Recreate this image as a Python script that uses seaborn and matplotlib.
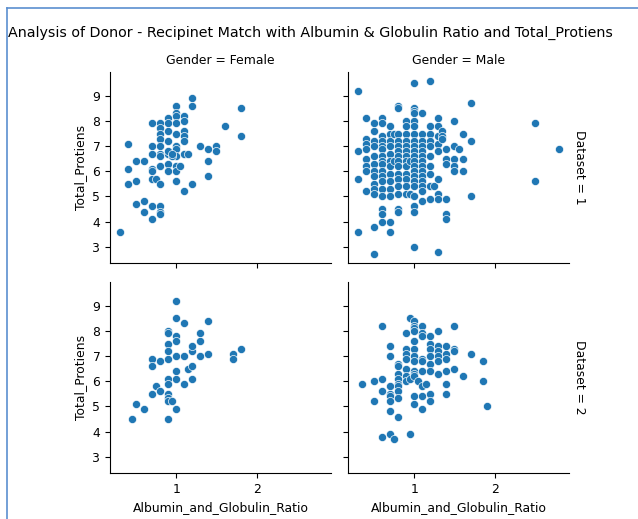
import matplotlib
matplotlib.use("Agg")
import matplotlib.pyplot as plt
from matplotlib.lines import Line2D
import pandas as pd
import seaborn as sns

# values, one pair of lists per facet
female_1_ratio = [0.3, 0.4, 0.4, 0.4, 0.5, 0.5, 0.6, 0.5, 0.6, 0.6, 0.7, 0.7, 0.8, 0.8, 0.8,
                  0.7, 0.7, 0.7, 0.7, 0.7, 0.7, 0.75,
                  0.8, 0.8, 0.8, 0.8, 0.8, 0.8, 0.8, 0.8, 0.8,
                  0.9, 0.9, 0.9, 0.9, 0.9, 0.9, 0.9, 0.9,
                  1.0, 1.0, 1.0, 1.0, 1.0, 1.0, 1.0, 1.0, 1.0, 1.0, 1.0,
                  0.95, 0.95, 1.05,
                  1.1, 1.1, 1.1, 1.1, 1.1, 1.1, 1.15, 1.1,
                  1.2, 1.2, 1.2, 1.3, 1.4, 1.4, 1.4, 1.5, 1.5, 1.6, 1.8, 1.8]
female_1_prot = [3.6, 7.1, 6.1, 5.5, 5.6, 6.4, 6.4, 4.7, 4.8, 4.4, 4.6, 4.1, 4.6, 4.4, 4.3,
                 7.9, 7.0, 6.7, 6.1, 6.0, 5.7, 5.7,
                 7.9, 7.7, 7.5, 7.3, 7.0, 6.7, 6.6, 6.2, 5.5,
                 8.1, 7.9, 7.6, 7.2, 6.7, 6.3, 6.0, 6.8,
                 8.6, 8.3, 8.2, 7.9, 7.5, 7.0, 6.9, 6.6, 6.2, 6.0, 5.6,
                 6.6, 6.7, 6.2,
                 8.2, 8.0, 7.6, 7.4, 7.2, 6.7, 6.7, 5.2,
                 8.9, 8.6, 5.5, 7.0, 6.9, 6.4, 5.8, 7.0, 6.8, 7.8, 8.5, 7.4]

male_1_ratio = [0.3, 0.3, 0.3, 0.3,
                0.4, 0.4, 0.4, 0.4, 0.4, 0.4, 0.4, 0.4,
                0.5, 0.5, 0.5, 0.5, 0.5, 0.5, 0.5, 0.5, 0.5, 0.5, 0.5, 0.5, 0.5,
                0.6, 0.6, 0.6, 0.6, 0.6, 0.6, 0.6, 0.6, 0.6, 0.6, 0.6, 0.6, 0.6, 0.6, 0.6, 0.6, 0.6,
                0.7, 0.7, 0.7, 0.7, 0.7, 0.7, 0.7, 0.7, 0.7, 0.7, 0.7, 0.7, 0.7,
                0.75, 0.75,
                0.8, 0.8, 0.8, 0.8, 0.8, 0.8, 0.8, 0.8, 0.8, 0.8, 0.8, 0.8, 0.8, 0.8, 0.8,
                0.9, 0.9, 0.9, 0.9, 0.9, 0.9, 0.9, 0.9, 0.9, 0.9, 0.9, 0.9, 0.9,
                0.95, 0.95,
                1.0, 1.0, 1.0, 1.0, 1.0, 1.0, 1.0, 1.0, 1.0, 1.0, 1.0, 1.0, 1.0, 1.0, 1.0,
                1.0, 1.0, 1.0, 1.0, 1.0, 1.0,
                1.1, 1.1, 1.1, 1.1, 1.1, 1.1, 1.1, 1.1, 1.1, 1.1, 1.1, 1.1, 1.1, 1.1,
                1.2, 1.2, 1.2, 1.2, 1.2, 1.2, 1.2, 1.2, 1.2, 1.2, 1.25,
                1.3, 1.3, 1.3, 1.3, 1.3, 1.3, 1.3, 1.3, 1.3,
                1.35, 1.35, 1.35,
                1.4, 1.4, 1.4, 1.4, 1.4, 1.4,
                1.5, 1.5, 1.5, 1.5, 1.5, 1.55,
                1.6, 1.6, 1.6, 1.7, 1.7, 1.7,
                2.5, 2.5, 2.8]
male_1_prot = [9.2, 6.8, 3.6, 5.7,
               8.1, 7.3, 7.1, 6.9, 6.5, 6.2, 6.0, 5.2,
               2.7, 3.8, 7.9, 7.6, 7.2, 7.0, 6.6, 6.3, 6.0, 5.8, 5.5, 5.3, 5.1,
               8.1, 7.9, 7.4, 7.2, 7.0, 6.9, 6.6, 6.4, 6.3, 6.0, 5.8, 5.6, 5.3, 5.0, 4.5, 4.3, 4.0,
               7.8, 7.5, 7.2, 7.0, 6.7, 6.4, 6.2, 5.9, 5.6, 5.3, 5.0, 4.0, 3.6,
               7.5, 6.4,
               8.6, 8.5, 7.5, 7.2, 7.0, 6.8, 6.6, 6.4, 6.2, 5.9, 5.7, 5.4, 5.1, 4.5, 4.4,
               8.0, 7.8, 7.5, 7.2, 7.0, 6.8, 6.6, 6.4, 6.2, 5.9, 5.7, 5.4, 5.1,
               5.1, 6.4,
               9.5, 8.5, 8.4, 8.3, 8.0, 7.8, 7.5, 7.2, 7.0, 6.8, 6.6, 6.4, 6.2, 6.0, 5.8,
               5.6, 5.4, 5.0, 4.6, 4.4, 3.0,
               8.3, 7.5, 7.2, 7.0, 6.8, 6.6, 6.4, 6.2, 6.0, 5.8, 5.6, 5.4, 5.2, 4.8,
               9.6, 7.8, 7.5, 7.2, 7.0, 6.6, 6.2, 5.9, 5.4, 4.9, 5.4,
               8.1, 7.8, 7.4, 7.1, 6.8, 5.7, 5.1, 4.9, 2.8,
               7.6, 7.4, 7.3,
               6.9, 6.5, 6.3, 4.9, 4.3, 4.1,
               8.0, 7.0, 6.5, 6.2, 6.0, 6.9,
               7.5, 6.5, 6.0, 7.2, 8.7, 5.0,
               7.9, 5.6, 6.9]

female_2_ratio = [0.45, 0.5, 0.6, 0.7, 0.7, 0.7, 0.75, 0.8, 0.8,
                  1.0, 1.0, 1.0, 1.0, 1.0, 1.0, 1.0,
                  0.9, 0.9, 0.9, 0.9, 0.9, 0.9, 0.9, 0.9, 0.9, 0.9, 0.95, 0.9,
                  1.0, 1.1, 1.1, 1.1, 1.15, 1.2, 1.2, 1.2, 1.2,
                  1.3, 1.3, 1.3, 1.4, 1.4, 1.7, 1.7, 1.8]
female_2_prot = [4.5, 5.1, 4.9, 6.9, 6.6, 5.5, 5.8, 6.8, 5.6,
                 9.2, 8.5, 7.8, 7.6, 7.0, 6.4, 4.9,
                 8.0, 7.9, 7.5, 7.2, 6.9, 6.1, 5.9, 5.5, 5.35, 5.2, 5.2, 4.5,
                 6.1, 8.3, 7.0, 5.9, 6.5, 6.6, 7.2, 7.4, 6.1,
                 7.9, 7.6, 7.0, 8.4, 7.1, 7.1, 6.9, 7.3]

male_2_ratio = [0.35, 0.5, 0.5, 0.6, 0.6, 0.6, 0.6,
                0.7, 0.7, 0.7, 0.7, 0.7, 0.7, 0.7, 0.7, 0.75,
                0.8, 0.8, 0.8, 0.8, 0.8, 0.8, 0.8, 0.8, 0.8,
                0.9, 0.9, 0.9, 0.9, 0.9, 0.9, 0.9,
                0.95, 0.95, 0.95,
                1.0, 1.0, 1.0, 1.0, 1.0, 1.0, 1.0, 1.0, 1.0, 1.0, 1.0, 1.0, 1.0, 1.05,
                1.1, 1.1, 1.1, 1.1, 1.1, 1.1, 1.1, 1.1, 1.1, 1.15,
                1.2, 1.2, 1.2, 1.2, 1.2, 1.2, 1.2, 1.2,
                1.3, 1.3, 1.3, 1.3, 1.3, 1.3,
                1.4, 1.4, 1.4, 1.4, 1.4, 1.4,
                1.5, 1.5, 1.5, 1.5, 1.6, 1.7, 1.85, 1.85, 1.9]
male_2_prot = [5.9, 6.0, 5.2, 3.8, 8.2, 6.1, 5.6,
               7.4, 7.0, 5.8, 5.5, 5.4, 5.2, 4.8, 3.9, 3.7,
               6.7, 6.6, 6.3, 6.1, 5.9, 5.8, 5.6, 5.35, 4.6,
               7.9, 7.3, 7.1, 6.9, 6.5, 6.2, 6.0,
               8.5, 3.9, 6.1,
               8.4, 8.2, 8.1, 8.0, 7.6, 7.3, 7.0, 6.8, 6.4, 6.3, 6.2, 5.4, 5.1, 6.0,
               8.2, 7.9, 7.8, 6.9, 6.8, 6.4, 5.8, 5.4, 4.9, 5.9,
               7.8, 7.5, 7.3, 7.0, 6.7, 6.4, 5.5, 5.2,
               8.0, 7.4, 7.2, 7.0, 6.8, 6.3,
               7.4, 7.1, 6.9, 6.4, 5.9, 5.5,
               8.2, 7.3, 7.2, 6.5, 6.2, 7.1, 6.8, 6.0, 5.0]

# build one long table for the facet grid
parts = []
for gender, dataset, ratio, prot in [
    ("Female", 1, female_1_ratio, female_1_prot),
    ("Male", 1, male_1_ratio, male_1_prot),
    ("Female", 2, female_2_ratio, female_2_prot),
    ("Male", 2, male_2_ratio, male_2_prot),
]:
    parts.append(pd.DataFrame({
        "Albumin_and_Globulin_Ratio": ratio,
        "Total_Protiens": prot,
        "Gender": gender,
        "Dataset": dataset,
    }))
df = pd.concat(parts, ignore_index=True)

plt.rcParams["font.size"] = 8.9

g = sns.FacetGrid(df, row="Dataset", col="Gender", col_order=["Female", "Male"],
                  row_order=[1, 2], margin_titles=True)
g.map(sns.scatterplot, "Albumin_and_Globulin_Ratio", "Total_Protiens", s=34)

fig = g.figure
fig.set_size_inches(6.38, 5.19)
fig.subplots_adjust(left=110 / 638, right=569 / 638, top=1 - 72 / 519,
                    bottom=1 - 473 / 519, wspace=0.077, hspace=0.1)

g.set(xticks=[1, 2], yticks=[3, 4, 5, 6, 7, 8, 9])
for ax in g.axes.flat:
    ax.tick_params(labelsize=8.9)

# title, left-aligned; kept just small enough to fit the full width
fig.text(8 / 638, 1 - 33 / 519,
         "Analysis of Donor - Recipinet Match with Albumin & Globulin Ratio and Total_Protiens",
         ha="left", va="center", fontsize=10.3)

# the thin blue frame of the reference screenshot
frame = "#5b8fd0"
fig.add_artist(Line2D([6.5 / 638, 6.5 / 638], [0, 1 - 8 / 519], transform=fig.transFigure,
                      color=frame, lw=1.2))
fig.add_artist(Line2D([6.5 / 638, 1], [1 - 8 / 519, 1 - 8 / 519], transform=fig.transFigure,
                      color=frame, lw=1.2))

fig.savefig("out.png", dpi=100)
